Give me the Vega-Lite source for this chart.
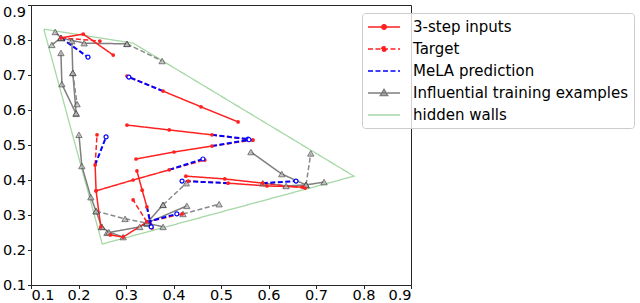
{
  "$schema": "https://vega.github.io/schema/vega-lite/v6.json",
  "width": 380,
  "height": 280,
  "autosize": {"type": "none"},
  "padding": {"left": 31, "top": 5, "right": 229, "bottom": 18},
  "background": "white",
  "config": {
    "view": {"stroke": "#262626", "strokeWidth": 1},
    "axis": {
      "labelFont": "DejaVu Sans",
      "labelFontSize": 14.5,
      "labelColor": "#000000",
      "tickColor": "#262626",
      "domainColor": "#262626",
      "tickSize": 3.5,
      "labelPadding": 2,
      "grid": false
    },
    "axisX": {"labelPadding": 0}
  },
  "data": {
    "values": [
      {"k": "w", "id": "W", "o": 0, "x": 0.127, "y": 0.831},
      {"k": "w", "id": "W", "o": 1, "x": 0.315, "y": 0.791},
      {"k": "w", "id": "W", "o": 2, "x": 0.780, "y": 0.411},
      {"k": "w", "id": "W", "o": 3, "x": 0.250, "y": 0.217},
      {"k": "w", "id": "W", "o": 4, "x": 0.127, "y": 0.831},

      {"k": "tin", "id": "G1", "o": 0, "x": 0.163, "y": 0.806},
      {"k": "tin", "id": "G1", "o": 1, "x": 0.212, "y": 0.791},
      {"k": "tin", "id": "G1", "o": 2, "x": 0.302, "y": 0.789},
      {"k": "ttg", "id": "G1", "o": 0, "x": 0.302, "y": 0.789},
      {"k": "ttg", "id": "G1", "o": 1, "x": 0.376, "y": 0.740},
      {"k": "tin", "id": "G2", "o": 0, "x": 0.151, "y": 0.823},
      {"k": "tin", "id": "G2", "o": 1, "x": 0.163, "y": 0.806},
      {"k": "tin", "id": "G3", "o": 0, "x": 0.144, "y": 0.786},
      {"k": "tin", "id": "G3", "o": 1, "x": 0.163, "y": 0.806},
      {"k": "tin", "id": "G4", "o": 0, "x": 0.163, "y": 0.763},
      {"k": "tin", "id": "G4", "o": 1, "x": 0.165, "y": 0.674},
      {"k": "tin", "id": "G4", "o": 2, "x": 0.195, "y": 0.589},
      {"k": "tin", "id": "G5", "o": 0, "x": 0.186, "y": 0.797},
      {"k": "tin", "id": "G5", "o": 1, "x": 0.188, "y": 0.706},
      {"k": "tin", "id": "G5", "o": 2, "x": 0.195, "y": 0.591},
      {"k": "ttg", "id": "G5", "o": 0, "x": 0.188, "y": 0.706},
      {"k": "ttg", "id": "G5", "o": 1, "x": 0.197, "y": 0.617},
      {"k": "tin", "id": "G7", "o": 0, "x": 0.201, "y": 0.529},
      {"k": "tin", "id": "G7", "o": 1, "x": 0.207, "y": 0.440},
      {"k": "tin", "id": "G7", "o": 2, "x": 0.226, "y": 0.351},
      {"k": "tin", "id": "G7", "o": 3, "x": 0.237, "y": 0.311},
      {"k": "tin", "id": "G7", "o": 4, "x": 0.249, "y": 0.266},
      {"k": "ttg", "id": "G7", "o": 0, "x": 0.237, "y": 0.311},
      {"k": "ttg", "id": "G7", "o": 1, "x": 0.298, "y": 0.289},
      {"k": "ttg", "id": "G7", "o": 2, "x": 0.344, "y": 0.277},
      {"k": "tin", "id": "G8", "o": 0, "x": 0.260, "y": 0.249},
      {"k": "tin", "id": "G8", "o": 1, "x": 0.329, "y": 0.266},
      {"k": "tin", "id": "G8", "o": 2, "x": 0.344, "y": 0.277},
      {"k": "tin", "id": "G9", "o": 0, "x": 0.249, "y": 0.266},
      {"k": "tin", "id": "G9", "o": 1, "x": 0.264, "y": 0.251},
      {"k": "tin", "id": "G9", "o": 2, "x": 0.294, "y": 0.237},
      {"k": "tin", "id": "G10", "o": 0, "x": 0.344, "y": 0.277},
      {"k": "tin", "id": "G10", "o": 1, "x": 0.378, "y": 0.329},
      {"k": "ttg", "id": "G10", "o": 0, "x": 0.378, "y": 0.329},
      {"k": "ttg", "id": "G10", "o": 1, "x": 0.427, "y": 0.391},
      {"k": "tin", "id": "G11", "o": 0, "x": 0.344, "y": 0.277},
      {"k": "tin", "id": "G11", "o": 1, "x": 0.428, "y": 0.326},
      {"k": "ttg", "id": "G12", "o": 0, "x": 0.420, "y": 0.303},
      {"k": "ttg", "id": "G12", "o": 1, "x": 0.496, "y": 0.331},
      {"k": "tin", "id": "G13", "o": 0, "x": 0.563, "y": 0.480},
      {"k": "tin", "id": "G13", "o": 1, "x": 0.628, "y": 0.417},
      {"k": "tin", "id": "G13", "o": 2, "x": 0.679, "y": 0.386},
      {"k": "ttg", "id": "G13", "o": 0, "x": 0.679, "y": 0.386},
      {"k": "ttg", "id": "G13", "o": 1, "x": 0.689, "y": 0.476},
      {"k": "tin", "id": "G14", "o": 0, "x": 0.588, "y": 0.391},
      {"k": "tin", "id": "G14", "o": 1, "x": 0.637, "y": 0.383},
      {"k": "tin", "id": "G14", "o": 2, "x": 0.679, "y": 0.386},
      {"k": "tin", "id": "G14", "o": 3, "x": 0.717, "y": 0.394},
      {"k": "tin", "id": "G15", "o": 0, "x": 0.344, "y": 0.277},
      {"k": "tin", "id": "G15", "o": 1, "x": 0.378, "y": 0.266},

      {"k": "in", "id": "R1", "o": 0, "x": 0.273, "y": 0.757},
      {"k": "in", "id": "R1", "o": 1, "x": 0.210, "y": 0.817},
      {"k": "in", "id": "R1", "o": 2, "x": 0.163, "y": 0.806},
      {"k": "tg", "id": "R1", "o": 0, "x": 0.163, "y": 0.806},
      {"k": "tg", "id": "R1", "o": 1, "x": 0.245, "y": 0.797},
      {"k": "pr", "id": "R1", "o": 0, "x": 0.163, "y": 0.806},
      {"k": "pr", "id": "R1", "o": 1, "x": 0.220, "y": 0.751},

      {"k": "in", "id": "R2", "o": 0, "x": 0.536, "y": 0.566},
      {"k": "in", "id": "R2", "o": 1, "x": 0.458, "y": 0.609},
      {"k": "in", "id": "R2", "o": 2, "x": 0.378, "y": 0.654},
      {"k": "tg", "id": "R2", "o": 0, "x": 0.378, "y": 0.654},
      {"k": "tg", "id": "R2", "o": 1, "x": 0.302, "y": 0.697},
      {"k": "pr", "id": "R2", "o": 0, "x": 0.378, "y": 0.654},
      {"k": "pr", "id": "R2", "o": 1, "x": 0.306, "y": 0.694},

      {"k": "in", "id": "R3", "o": 0, "x": 0.302, "y": 0.557},
      {"k": "in", "id": "R3", "o": 1, "x": 0.391, "y": 0.543},
      {"k": "in", "id": "R3", "o": 2, "x": 0.481, "y": 0.529},
      {"k": "tg", "id": "R3", "o": 0, "x": 0.481, "y": 0.529},
      {"k": "tg", "id": "R3", "o": 1, "x": 0.567, "y": 0.514},
      {"k": "pr", "id": "R3", "o": 0, "x": 0.481, "y": 0.529},
      {"k": "pr", "id": "R3", "o": 1, "x": 0.557, "y": 0.517},

      {"k": "in", "id": "R4", "o": 0, "x": 0.321, "y": 0.460},
      {"k": "in", "id": "R4", "o": 1, "x": 0.401, "y": 0.480},
      {"k": "in", "id": "R4", "o": 2, "x": 0.481, "y": 0.497},
      {"k": "tg", "id": "R4", "o": 0, "x": 0.481, "y": 0.497},
      {"k": "tg", "id": "R4", "o": 1, "x": 0.567, "y": 0.514},
      {"k": "pr", "id": "R4", "o": 0, "x": 0.481, "y": 0.497},
      {"k": "pr", "id": "R4", "o": 1, "x": 0.559, "y": 0.515},

      {"k": "in", "id": "R5", "o": 0, "x": 0.237, "y": 0.369},
      {"k": "in", "id": "R5", "o": 1, "x": 0.315, "y": 0.400},
      {"k": "in", "id": "R5", "o": 2, "x": 0.391, "y": 0.429},
      {"k": "tg", "id": "R5", "o": 0, "x": 0.391, "y": 0.429},
      {"k": "tg", "id": "R5", "o": 1, "x": 0.466, "y": 0.457},
      {"k": "pr", "id": "R5", "o": 0, "x": 0.391, "y": 0.429},
      {"k": "pr", "id": "R5", "o": 1, "x": 0.462, "y": 0.460},

      {"k": "in", "id": "R6", "o": 0, "x": 0.323, "y": 0.426},
      {"k": "in", "id": "R6", "o": 1, "x": 0.334, "y": 0.371},
      {"k": "in", "id": "R6", "o": 2, "x": 0.344, "y": 0.323},
      {"k": "tg", "id": "R6", "o": 0, "x": 0.344, "y": 0.323},
      {"k": "tg", "id": "R6", "o": 1, "x": 0.355, "y": 0.263},
      {"k": "pr", "id": "R6", "o": 0, "x": 0.344, "y": 0.323},
      {"k": "pr", "id": "R6", "o": 1, "x": 0.353, "y": 0.266},

      {"k": "in", "id": "R7", "o": 0, "x": 0.267, "y": 0.243},
      {"k": "in", "id": "R7", "o": 1, "x": 0.294, "y": 0.237},
      {"k": "in", "id": "R7", "o": 2, "x": 0.344, "y": 0.280},
      {"k": "tg", "id": "R7", "o": 0, "x": 0.344, "y": 0.280},
      {"k": "tg", "id": "R7", "o": 1, "x": 0.315, "y": 0.343},
      {"k": "tg", "id": "R7b", "o": 0, "x": 0.344, "y": 0.280},
      {"k": "tg", "id": "R7b", "o": 1, "x": 0.418, "y": 0.303},
      {"k": "pr", "id": "R7", "o": 0, "x": 0.344, "y": 0.280},
      {"k": "pr", "id": "R7", "o": 1, "x": 0.407, "y": 0.303},

      {"k": "in", "id": "R8", "o": 0, "x": 0.247, "y": 0.266},
      {"k": "in", "id": "R8", "o": 1, "x": 0.237, "y": 0.369},
      {"k": "in", "id": "R8", "o": 2, "x": 0.235, "y": 0.443},
      {"k": "tg", "id": "R8", "o": 0, "x": 0.235, "y": 0.443},
      {"k": "tg", "id": "R8", "o": 1, "x": 0.239, "y": 0.529},
      {"k": "pr", "id": "R8", "o": 0, "x": 0.235, "y": 0.443},
      {"k": "pr", "id": "R8", "o": 1, "x": 0.258, "y": 0.523},

      {"k": "in", "id": "R9", "o": 0, "x": 0.426, "y": 0.411},
      {"k": "in", "id": "R9", "o": 1, "x": 0.508, "y": 0.403},
      {"k": "in", "id": "R9", "o": 2, "x": 0.588, "y": 0.391},
      {"k": "tg", "id": "R9", "o": 0, "x": 0.588, "y": 0.391},
      {"k": "tg", "id": "R9", "o": 1, "x": 0.677, "y": 0.377},
      {"k": "pr", "id": "R9", "o": 0, "x": 0.588, "y": 0.391},
      {"k": "pr", "id": "R9", "o": 1, "x": 0.658, "y": 0.397},

      {"k": "in", "id": "R10", "o": 0, "x": 0.671, "y": 0.380},
      {"k": "in", "id": "R10", "o": 1, "x": 0.597, "y": 0.383},
      {"k": "in", "id": "R10", "o": 2, "x": 0.515, "y": 0.391},
      {"k": "tg", "id": "R10", "o": 0, "x": 0.515, "y": 0.391},
      {"k": "tg", "id": "R10", "o": 1, "x": 0.431, "y": 0.397},
      {"k": "pr", "id": "R10", "o": 0, "x": 0.515, "y": 0.391},
      {"k": "pr", "id": "R10", "o": 1, "x": 0.418, "y": 0.397}
    ]
  },
  "encoding": {
    "x": {
      "field": "x", "type": "quantitative",
      "scale": {"domain": [0.1, 0.9], "nice": false, "zero": false},
      "axis": {"values": [0.1, 0.2, 0.3, 0.4, 0.5, 0.6, 0.7, 0.8, 0.9], "format": ".1f", "title": null}
    },
    "y": {
      "field": "y", "type": "quantitative",
      "scale": {"domain": [0.1, 0.9], "nice": false, "zero": false},
      "axis": {
        "values": [0.1, 0.2, 0.3, 0.4, 0.5, 0.6, 0.7, 0.8, 0.9], "format": ".1f", "title": null,
        "labelBaseline": {"condition": {"test": "datum.value > 0.85", "value": "top"}, "value": "middle"}
      }
    },
    "order": {"field": "o", "type": "quantitative"},
    "detail": {"field": "id", "type": "nominal"}
  },
  "layer": [
    {
      "transform": [{"filter": "datum.k === 'w'"}],
      "mark": {"type": "line", "strokeWidth": 1.3},
      "encoding": {
        "color": {
          "datum": "hidden walls", "type": "nominal",
          "scale": {
            "domain": ["3-step inputs", "Target", "MeLA prediction", "Influential training examples", "hidden walls"],
            "range": ["#ff2020", "#ff2020", "#0000ff", "#7f7f7f", "#a6d8a6"]
          },
          "legend": {
            "title": null, "orient": "none", "legendX": 331, "legendY": 8,
            "labelFont": "DejaVu Sans", "labelFontSize": 15, "labelColor": "#000000", "labelLimit": 400,
            "symbolSize": 256, "symbolStrokeWidth": 1.5, "labelOffset": 28,
            "padding": 5, "rowPadding": 5,
            "strokeColor": "#cccccc", "fillColor": "rgba(255,255,255,0.8)", "cornerRadius": 3,
            "encode": {
              "symbols": {
                "update": {
                  "shape": {"signal": "indexof(['3-step inputs','Target'], datum.value) >= 0 ? 'M-1,0H3M0.72,0A0.28,0.28,0,1,1,1.28,0A0.28,0.28,0,1,1,0.72,0Z' : (datum.value === 'Influential training examples' ? 'M-1,0H3M1,-0.45L1.45,0.3L0.55,0.3Z' : 'M-1,0H3')"},
                  "fill": {"signal": "indexof(['3-step inputs','Target'], datum.value) >= 0 ? '#ff2020' : (datum.value === 'Influential training examples' ? '#b5b5b5' : 'transparent')"}
                }
              }
            }
          }
        },
        "strokeDash": {
          "datum": "hidden walls", "type": "nominal",
          "scale": {
            "domain": ["3-step inputs", "Target", "MeLA prediction", "Influential training examples", "hidden walls"],
            "range": [[1, 0], [5, 2.5], [5, 2.5], [1, 0], [1, 0]]
          },
          "legend": {
            "title": null, "orient": "none", "legendX": 331, "legendY": 8,
            "labelFont": "DejaVu Sans", "labelFontSize": 15, "labelColor": "#000000", "labelLimit": 400,
            "symbolSize": 256, "symbolStrokeWidth": 1.5, "labelOffset": 28,
            "padding": 5, "rowPadding": 5,
            "strokeColor": "#cccccc", "fillColor": "rgba(255,255,255,0.8)", "cornerRadius": 3
          }
        }
      }
    },
    {
      "transform": [{"filter": "datum.k === 'tin'"}],
      "mark": {"type": "line", "strokeWidth": 1.5},
      "encoding": {
        "color": {"datum": "Influential training examples", "type": "nominal"},
        "strokeDash": {"datum": "Influential training examples", "type": "nominal"}
      }
    },
    {
      "transform": [{"filter": "datum.k === 'ttg'"}],
      "mark": {"type": "line", "strokeWidth": 1.5, "color": "#8a8a8a", "strokeDash": [5, 2.5]},
      "encoding": {}
    },
    {
      "transform": [{"filter": "datum.k === 'in'"}],
      "mark": {"type": "line", "strokeWidth": 1.5},
      "encoding": {
        "color": {"datum": "3-step inputs", "type": "nominal"},
        "strokeDash": {"datum": "3-step inputs", "type": "nominal"}
      }
    },
    {
      "transform": [{"filter": "datum.k === 'tg'"}],
      "mark": {"type": "line", "strokeWidth": 1.5},
      "encoding": {
        "color": {"datum": "Target", "type": "nominal"},
        "strokeDash": {"datum": "Target", "type": "nominal"}
      }
    },
    {
      "transform": [{"filter": "datum.k === 'pr'"}],
      "mark": {"type": "line", "strokeWidth": 2},
      "encoding": {
        "color": {"datum": "MeLA prediction", "type": "nominal"},
        "strokeDash": {"datum": "MeLA prediction", "type": "nominal"}
      }
    },
    {
      "transform": [{"filter": "datum.k === 'tin' || datum.k === 'ttg'"}],
      "mark": {"type": "point", "shape": "triangle-up", "size": 40, "filled": true, "fill": "#b5b5b5", "stroke": "#4d4d4d", "strokeWidth": 1, "opacity": 0.75},
      "encoding": {}
    },
    {
      "transform": [{"filter": "datum.k === 'in' || (datum.k === 'tg' && datum.o === 1)"}],
      "mark": {"type": "point", "shape": "circle", "size": 14, "filled": true, "color": "#ff2020", "opacity": 1},
      "encoding": {}
    },
    {
      "transform": [{"filter": "datum.k === 'pr' && datum.o === 1"}],
      "mark": {"type": "point", "shape": "circle", "size": 16, "filled": true, "fill": "#ffffff", "stroke": "#0000ff", "strokeWidth": 1.2, "opacity": 1},
      "encoding": {}
    }
  ]
}
